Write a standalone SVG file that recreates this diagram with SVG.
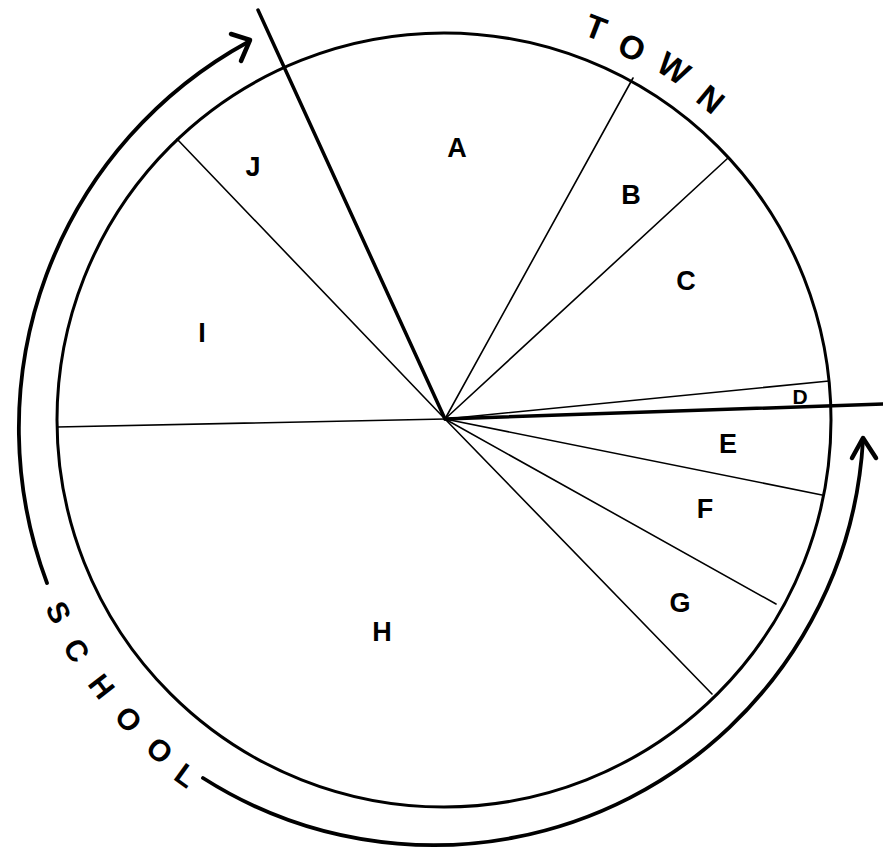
<svg xmlns="http://www.w3.org/2000/svg" width="883" height="849" viewBox="0 0 883 849">
<style>
.bg{fill:#fff}
.rim{fill:none;stroke:#000;stroke-width:3}
.spoke{stroke:#000;stroke-width:1.6;stroke-linecap:round}
.thick{stroke:#000;stroke-width:3.5;stroke-linecap:round}
.arc{fill:none;stroke:#000;stroke-width:3.8;stroke-linecap:round}
.head{fill:none;stroke:#000;stroke-width:4.5;stroke-linecap:round;stroke-linejoin:round}
.lbl{font-family:"Liberation Sans",Arial,sans-serif;font-weight:bold;font-size:27px;text-anchor:middle;fill:#000}
.town{font-family:"Liberation Sans",Arial,sans-serif;font-weight:bold;font-size:33px;text-anchor:middle;fill:#000}
.school{font-family:"Liberation Sans",Arial,sans-serif;font-weight:bold;font-size:30px;text-anchor:middle;fill:#000}
</style>
<rect class="bg" x="0" y="0" width="883" height="849"/>
<g id="circle">
<circle class="rim" cx="444" cy="420" r="387"/>
</g>
<g id="connectors">
<line class="thick" x1="445" y1="419" x2="258" y2="10"/>
<line class="spoke" x1="445" y1="419" x2="633" y2="78"/>
<line class="spoke" x1="445" y1="419" x2="728" y2="158"/>
<line class="spoke" x1="445" y1="419" x2="829" y2="381"/>
<line class="thick" x1="445" y1="419" x2="883" y2="404"/>
<line class="spoke" x1="445" y1="419" x2="822" y2="495"/>
<line class="spoke" x1="445" y1="419" x2="776" y2="604"/>
<line class="spoke" x1="445" y1="419" x2="712" y2="694"/>
<line class="spoke" x1="445" y1="419" x2="57" y2="427"/>
<line class="spoke" x1="445" y1="419" x2="177" y2="139"/>
<path class="arc" d="M 47 583 A 440 440 0 0 1 248 42"/>
<path class="head" d="M 231 34 L 250 40 L 241 61"/>
<path class="arc" d="M 203 778 A 430 430 0 0 0 863 440"/>
<path class="head" d="M 852 458 L 863 438 L 876 458"/>
</g>
<g id="A"><text class="lbl" x="457" y="157">A</text></g>
<g id="B"><text class="lbl" x="631" y="204">B</text></g>
<g id="C"><text class="lbl" x="686" y="290">C</text></g>
<g id="D"><text class="lbl" x="800" y="404" style="font-size:21px">D</text></g>
<g id="E"><text class="lbl" x="728" y="453">E</text></g>
<g id="F"><text class="lbl" x="705" y="518">F</text></g>
<g id="G"><text class="lbl" x="680" y="612">G</text></g>
<g id="H"><text class="lbl" x="382" y="641">H</text></g>
<g id="I"><text class="lbl" x="202" y="342">I</text></g>
<g id="J"><text class="lbl" x="253" y="176">J</text></g>
<g id="town">
<text class="town" transform="translate(596,27) rotate(21.1)" y="12">T</text>
<text class="town" transform="translate(632,47) rotate(26.7)" y="12">O</text>
<text class="town" transform="translate(674,68) rotate(33.2)" y="12">W</text>
<text class="town" transform="translate(711,99) rotate(39.7)" y="12">N</text>
</g>
<g id="school">
<text class="school" transform="translate(59,612) rotate(63.5)" y="11">S</text>
<text class="school" transform="translate(77,650) rotate(57.9)" y="11">C</text>
<text class="school" transform="translate(102,686) rotate(52.1)" y="11">H</text>
<text class="school" transform="translate(129,719) rotate(46.5)" y="11">O</text>
<text class="school" transform="translate(160,750) rotate(40.7)" y="11">O</text>
<text class="school" transform="translate(186,775) rotate(36)" y="11">L</text>
</g>
</svg>
